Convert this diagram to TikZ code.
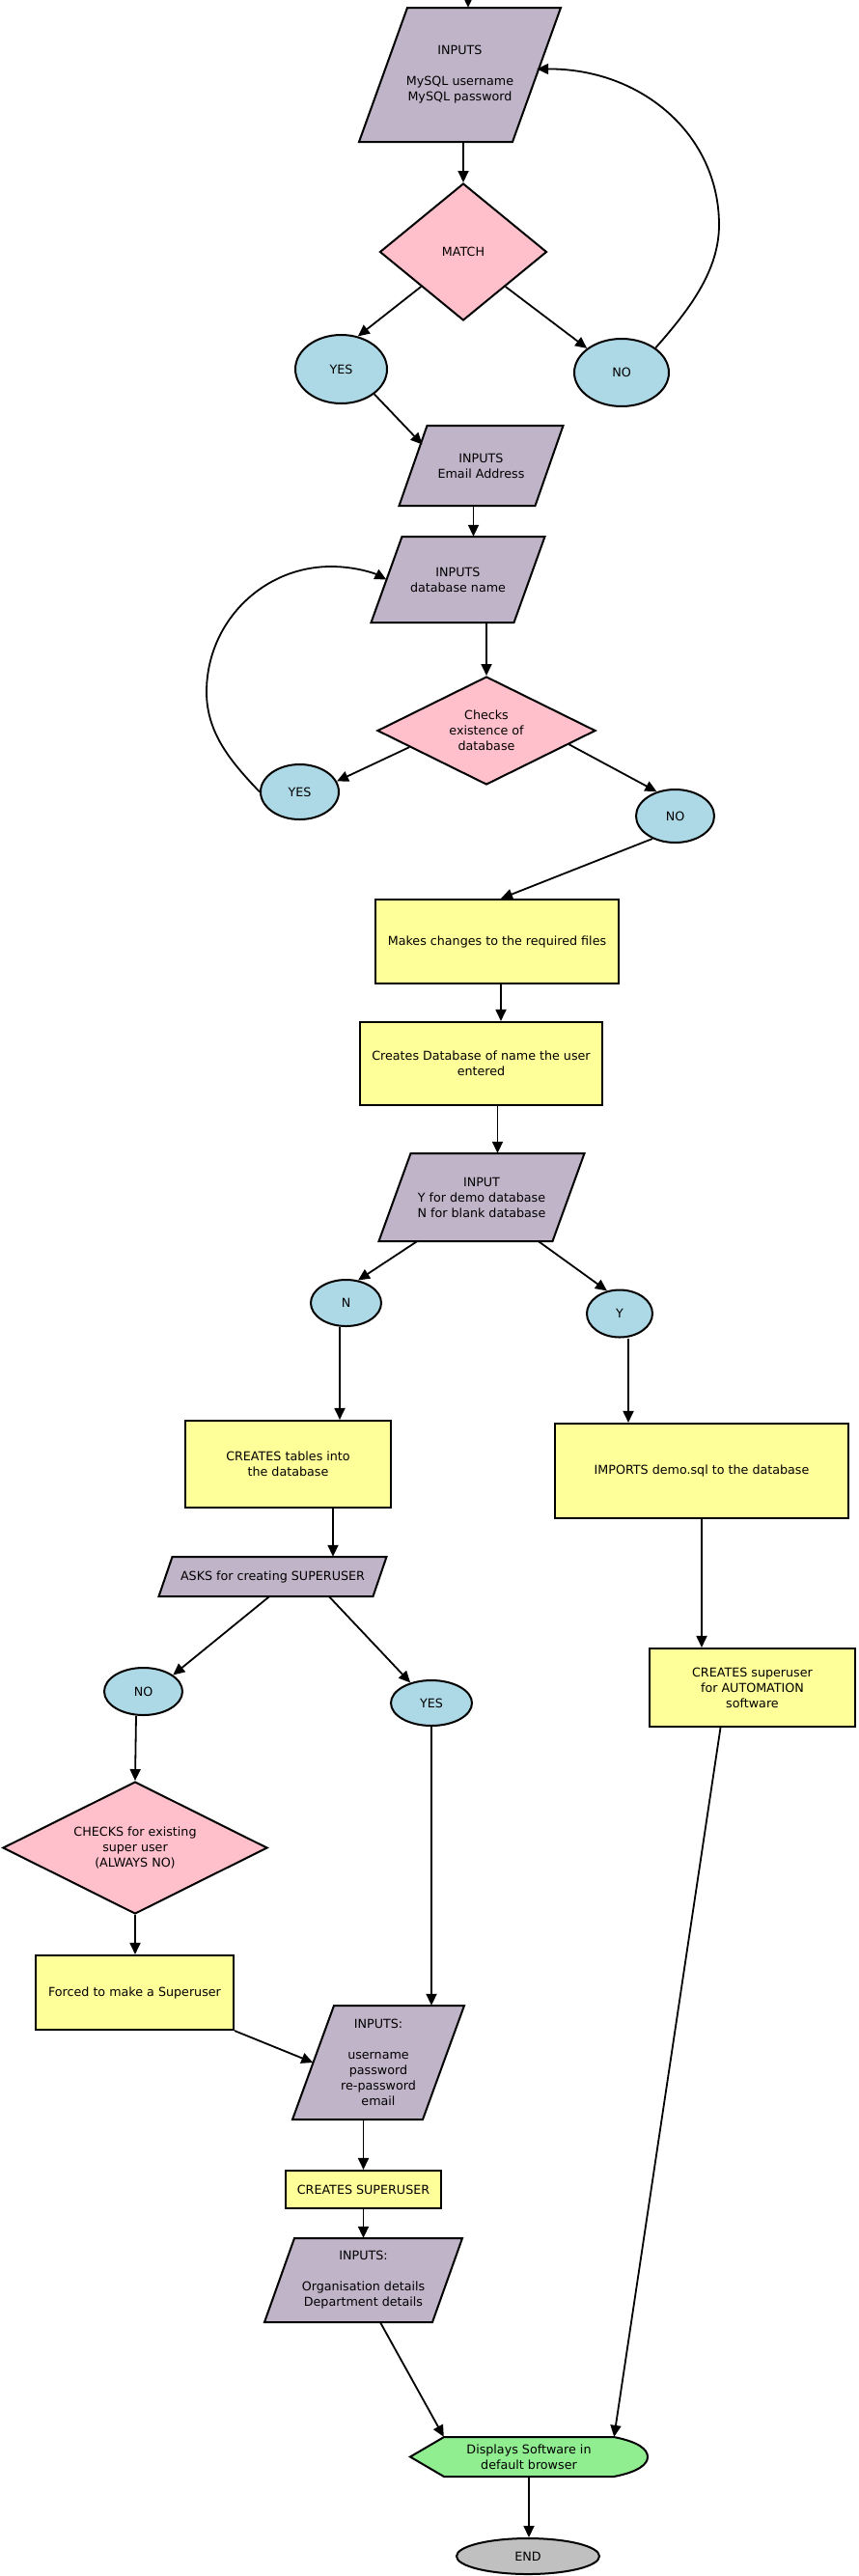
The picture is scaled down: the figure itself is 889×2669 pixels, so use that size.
\documentclass[tikz,border=0pt]{standalone}
\usepackage{fontspec}
\setmainfont{DejaVu Sans}
\usetikzlibrary{shapes.geometric,arrows.meta,calc}
\definecolor{cpara}{RGB}{192,180,200}
\definecolor{cpink}{RGB}{255,192,203}
\definecolor{cblue}{RGB}{173,216,230}
\definecolor{cyellow}{RGB}{255,255,153}
\definecolor{cgreen}{RGB}{144,238,144}
\definecolor{cgray}{RGB}{192,192,192}
\tikzset{
  base/.style={font=\fontsize{12.7pt}{16pt}\selectfont, align=center, inner sep=0pt},
  ybox/.style={base, rectangle, draw, line width=2.1pt, fill=cyellow},
  dec/.style={base, diamond, draw, line width=2pt, fill=cpink},
  oval/.style={base, ellipse, draw, line width=2pt, fill=cblue},
  parashape/.style={draw, line width=2pt, fill=cpara, line join=miter},
  dispshape/.style={draw, line width=2pt, fill=cgreen},
  conn/.style={line width=1.8pt, -{Triangle[length=12pt,width=11pt]}},
}
% #1 name, #2 cx, #3 cy, #4 side width, #5 height, #6 slant, #7 text
\newcommand\paranode[7]{%
  \draw[parashape] (#2-#4/2+#6/2, #3-#5/2) -- (#2+#4/2+#6/2, #3-#5/2)
     -- (#2+#4/2-#6/2, #3+#5/2) -- (#2-#4/2-#6/2, #3+#5/2) -- cycle;
  \node[base, minimum width=#4pt, minimum height=#5pt] (#1) at (#2,#3) {#7};
}
\begin{document}
\begin{tikzpicture}[x=1pt,y=-1pt]
\fill[white] (0,0) rectangle (889,2669);
\useasboundingbox (0,0) rectangle (889,2669);

% ---------- nodes ----------
\coordinate (topin) at (485,-2);
\paranode{p1}{476.5}{77.5}{159}{139}{50}{INPUTS\\[16pt]MySQL username\\MySQL password}
\node[dec, shape aspect=1.2, minimum width=173pt, minimum height=142pt] (match) at (480,261) {MATCH};
\node[oval, minimum width=95pt, minimum height=71pt] (yes1) at (353.5,382.5) {YES};
\node[oval, minimum width=98pt, minimum height=70pt] (no1) at (644,386) {NO};

\paranode{p2}{498.5}{482.5}{141}{83}{29}{INPUTS\\Email Address}
\paranode{p3}{474.5}{600.5}{148}{89}{32}{INPUTS\\database name}
\node[dec, shape aspect=2, minimum width=226pt, minimum height=112pt] (chk) at (504,757) {Checks\\existence of\\database};
\node[oval, minimum width=81pt, minimum height=57pt] (yes2) at (310.5,820.5) {YES};
\node[oval, minimum width=81pt, minimum height=55pt] (no2) at (699.5,845.5) {NO};

\node[ybox, minimum width=252pt, minimum height=87pt] (b1) at (515,975.5) {Makes changes to the required files};
\node[ybox, minimum width=251pt, minimum height=86pt] (b2) at (498.5,1102) {Creates Database of name the user\\entered};
\paranode{p4}{499}{1240.5}{180}{91}{33}{INPUT\\Y for demo database\\N for blank database}
\node[oval, minimum width=73pt, minimum height=48pt] (nn) at (358.5,1350) {N};
\node[oval, minimum width=68pt, minimum height=49pt] (ny) at (642,1361) {Y};

\node[ybox, minimum width=213pt, minimum height=90pt] (b3) at (298.5,1517) {CREATES tables into\\the database};
\node[ybox, minimum width=304pt, minimum height=98pt] (b4) at (727,1524) {IMPORTS demo.sql to the database};
\paranode{p5}{282.5}{1633.5}{222}{41}{14}{ASKS for creating SUPERUSER}
\node[oval, minimum width=81pt, minimum height=49pt] (no3) at (148.5,1752.5) {NO};
\node[oval, minimum width=84pt, minimum height=47pt] (yes3) at (447,1764.5) {YES};
\node[ybox, minimum width=213pt, minimum height=81pt] (b5) at (779.5,1748.5) {CREATES superuser\\for AUTOMATION\\software};

\node[dec, shape aspect=2, minimum width=274pt, minimum height=137pt] (ckd) at (140,1914.5) {CHECKS for existing\\super user\\(ALWAYS NO)};
\node[ybox, minimum width=205pt, minimum height=77pt] (b6) at (139.5,2064.5) {Forced to make a Superuser};
\paranode{p6}{392}{2137}{135}{118}{43}{INPUTS:\\[16pt]username\\password\\re-password\\email}
\node[ybox, minimum width=161pt, minimum height=39pt] (b7) at (376.5,2268.5) {CREATES SUPERUSER};
\paranode{p7}{376.5}{2362.5}{174}{87}{31}{INPUTS:\\[16pt]Organisation details\\Department details}

\draw[dispshape] (425,2545.5) -- (460,2525) -- (636,2525)
   .. controls (662,2530) and (671,2538) .. (671,2545.5)
   .. controls (671,2553) and (662,2561) .. (636,2566) -- (460,2566) -- cycle;
\node[base, minimum width=246pt, minimum height=41pt] (disp) at (548,2545.5) {Displays Software in\\default browser};
\node[base, ellipse, draw, line width=2pt, fill=cgray, minimum width=148pt, minimum height=37pt] (endn) at (547,2648.5) {END};

% ---------- connectors ----------
\draw[conn] (topin) -- (topin |- p1.north);
\draw[conn] (match.north |- p1.south) -- (match.north);
\draw[conn] (match.south west) -- (yes1.63);
\draw[conn] (match.south east) -- (no1.145);
\draw[conn] (no1.36) .. controls (715,320) and (745,280) .. (745,233)
   .. controls (745,140) and (665,71) .. ([yshift=6pt]p1.east);
\draw[conn] (yes1.-37) -- ([shift={(-61,-22)}]p2.center);
\draw[conn] ([xshift=-8pt]p2.south) -- ([xshift=-8pt]p2.south |- p3.north);
\draw[conn] (chk.north |- p3.south) -- (chk.north);
\draw[conn] ($(chk.west)!0.3!(chk.south)$) -- (yes2.16);
\draw[conn] ($(chk.east)!0.25!(chk.south)$) -- (no2.127);
\draw[conn] (yes2.west) .. controls (240,790) and (214,760) .. (214,717)
   .. controls (214,645) and (272,587) .. (343,587)
   .. controls (368,587) and (388,594) .. (p3.west);
\draw[conn] (no2.225) -- ([xshift=4pt]b1.north);
\draw[conn] ([xshift=4pt]b1.south) -- ([xshift=4pt]b1.south |- b2.north);
\draw[conn] ([xshift=17pt]b2.south) -- ([xshift=17pt]b2.south |- p4.north);
\draw[conn] ([xshift=-67pt]p4.south) -- (nn.62);
\draw[conn] ([xshift=59pt]p4.south) -- (ny.119);
\draw[conn] ([xshift=-6.5pt]nn.south) -- ([xshift=-6.5pt]nn.south |- b3.north);
\draw[conn] ([xshift=9pt]ny.south) -- ([xshift=9pt]ny.south |- b4.north);
\draw[conn] ([xshift=46.5pt]b3.south) -- ([xshift=46.5pt]b3.south |- p5.north);
\draw[conn] ([xshift=-3.5pt]p5.south) -- (no3.29);
\draw[conn] ([xshift=58.5pt]p5.south) -- (yes3.136);
\draw[conn] (b4.south) -- (b4.south |- b5.north);
\draw[conn] ([xshift=-7.5pt]no3.south) -- (ckd.north);
\draw[conn] (ckd.south) -- (ckd.south |- b6.north);
\draw[conn] (b6.south east) -- (p6.west);
\draw[conn] (yes3.south) -- (yes3.south |- p6.north);
\draw[conn] (b7.north |- p6.south) -- (b7.north);
\draw[conn] (b7.south) -- (b7.south |- p7.north);
\draw[conn] ([xshift=17.5pt]p7.south) -- ([xshift=35pt]disp.north west);
\draw[conn] ([xshift=-33pt]b5.south) -- ([xshift=-35pt]disp.north east);
\draw[conn] (disp.south) -- (disp.south |- endn.north);
\end{tikzpicture}
\end{document}
